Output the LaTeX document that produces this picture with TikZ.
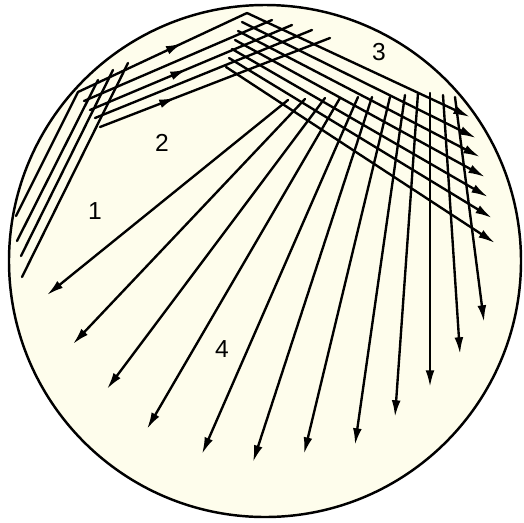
\documentclass[tikz,border=0pt]{standalone}
\usepackage{fontspec}
\setmainfont{Liberation Sans}
\usetikzlibrary{arrows.meta,decorations.markings}
\definecolor{agar}{RGB}{254,253,236}

\begin{document}
\begin{tikzpicture}[
  x=0.02cm, y=-0.02cm,
  every node/.style={font=\fontsize{14}{16}\selectfont},
  streak/.style={line width=1.35pt, draw=black, line cap=round},
  tipped/.style={streak, -{Latex[length=9.5pt,width=5pt]}},
  midtip/.style={streak, postaction={decorate},
    decoration={markings, mark=at position #1 with {\arrow{Latex[length=9.5pt,width=5pt]}}}}
]
\useasboundingbox (0,0) rectangle (524,522);
\coordinate (plate) at (265,261);
\draw[line width=1.4pt, fill=agar] (plate) circle [radius=256];

% first streak
\draw[streak] (16,216) -- (78,92);
\draw[streak] (17,241) -- (98,80);
\draw[streak] (21,256) -- (113,70);
\draw[streak] (22,277) -- (128,63);

% second streak
\draw[midtip=0.62] (78,92) -- (247,13);
\draw[streak] (84,101) -- (272,20);
\draw[midtip=0.48] (90,110) -- (292,25);
\draw[streak] (95,118) -- (312,30);
\draw[midtip=0.33] (100,127) -- (330,38);

% third streak
\draw[tipped] (247,13) -- (470,117);
\draw[tipped] (242,22) -- (476,138);
\draw[tipped] (238,31) -- (480,157);
\draw[tipped] (235,40) -- (485,177);
\draw[tipped] (232,49) -- (488,197);
\draw[tipped] (229,58) -- (492,218);
\draw[tipped] (226,67) -- (495,243);

% fourth streak
\draw[tipped] (288,100) -- (47,295);
\draw[tipped] (305,99) -- (73,344);
\draw[tipped] (325,98) -- (107,389);
\draw[tipped] (340,98) -- (147,429);
\draw[tipped] (358,97) -- (202,454);
\draw[tipped] (372,97) -- (253,462);
\draw[tipped] (390,97) -- (304,454);
\draw[tipped] (405,95) -- (355,445);
\draw[tipped] (418,93) -- (395,417);
\draw[tipped] (430,93) -- (430,387);
\draw[tipped] (443,95) -- (460,354);
\draw[tipped] (455,97) -- (484,322);

\node (one) at (95,211) {1};
\node (two) at (162,143) {2};
\node (three) at (379,52) {3};
\node (four) at (222,349) {4};
\end{tikzpicture}
\end{document}
